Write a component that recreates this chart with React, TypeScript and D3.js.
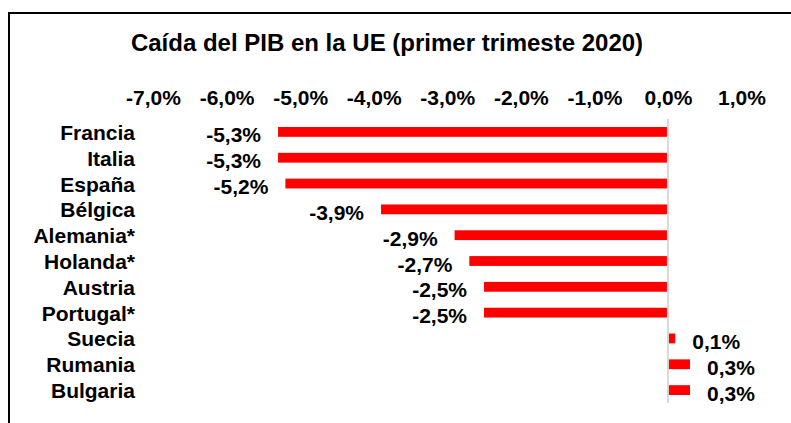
import React, { useRef, useEffect } from "react";
import * as d3 from "d3";

const countries = [
  "Francia",
  "Italia",
  "España",
  "Bélgica",
  "Alemania*",
  "Holanda*",
  "Austria",
  "Portugal*",
  "Suecia",
  "Rumania",
  "Bulgaria",
];
const values = [-5.3, -5.3, -5.2, -3.9, -2.9, -2.7, -2.5, -2.5, 0.1, 0.3, 0.3];
const tickValues = [-7, -6, -5, -4, -3, -2, -1, 0, 1];
const title = "Caída del PIB en la UE (primer trimeste 2020)";

const W = 791;
const H = 423;
const FONT = "'Liberation Sans', Arial, sans-serif";

const pct = (v: number) => d3.format(".1f")(v).replace(".", ",").replace("−", "-") + "%";

function App() {
  const ref = useRef<SVGSVGElement>(null);

  useEffect(() => {
    document.body.style.margin = "0";
    const svg = d3.select(ref.current);
    svg.selectAll("*").remove(); // clear

    svg.append("rect").attr("width", W).attr("height", H).attr("fill", "#fff");

    // frame (only left + top edges fall inside the picture)
    svg
      .append("rect")
      .attr("x", 9)
      .attr("y", 13)
      .attr("width", W + 20)
      .attr("height", H + 20)
      .attr("fill", "none")
      .attr("stroke", "#000")
      .attr("stroke-width", 2);

    svg
      .append("text")
      .attr("x", 387)
      .attr("y", 51)
      .attr("text-anchor", "middle")
      .style("font-family", FONT)
      .style("font-weight", "bold")
      .style("font-size", "24px")
      .text(title);

    const x = d3.scaleLinear().domain([-7, 1]).range([153, 741.5]);
    const y = d3.scaleBand().domain(countries).range([119, 403]).paddingInner(0.62).paddingOuter(0.31);

    // top axis labels
    const axis = svg
      .append("g")
      .attr("transform", "translate(0,97)")
      .call(
        d3
          .axisTop(x)
          .tickValues(tickValues)
          .tickSize(0)
          .tickPadding(0)
          .tickFormat((d) => pct(d as number))
      );
    axis.select(".domain").remove();
    axis
      .selectAll("text")
      .attr("dy", "0.36em")
      .style("font-family", FONT)
      .style("font-weight", "bold")
      .style("font-size", "21px")
      .attr("fill", "#000");

    // category labels
    const yAxis = svg
      .append("g")
      .attr("transform", "translate(135,0)")
      .call(d3.axisLeft(y).tickSize(0).tickPadding(0));
    yAxis.select(".domain").remove();
    yAxis
      .selectAll("text")
      .attr("dy", "0.38em")
      .style("font-family", FONT)
      .style("font-weight", "bold")
      .style("font-size", "21px")
      .attr("fill", "#000");

    const data = countries.map((c, i) => ({ c, v: values[i] }));

    svg
      .append("g")
      .selectAll("rect")
      .data(data)
      .join("rect")
      .attr("x", (d) => x(Math.min(0, d.v)))
      .attr("y", (d) => y(d.c)!)
      .attr("width", (d) => Math.abs(x(d.v) - x(0)))
      .attr("height", y.bandwidth())
      .attr("fill", "#ff0000");

    // zero line
    svg
      .append("line")
      .attr("x1", x(0))
      .attr("x2", x(0))
      .attr("y1", 119)
      .attr("y2", 403)
      .attr("stroke", "#d9d9d9")
      .attr("stroke-width", 2);

    svg
      .append("g")
      .selectAll("text")
      .data(data)
      .join("text")
      .attr("x", (d) => (d.v < 0 ? x(d.v) - 17 : x(d.v) + 17))
      .attr("y", (d) => y(d.c)! + y.bandwidth() / 2)
      .attr("dy", "0.5em")
      .attr("text-anchor", (d) => (d.v < 0 ? "end" : "start"))
      .style("font-family", FONT)
      .style("font-weight", "bold")
      .style("font-size", "21px")
      .text((d) => pct(d.v));
  }, []);

  return <svg ref={ref} width={W} height={H} style={{ display: "block" }}></svg>;
}

export default App;
